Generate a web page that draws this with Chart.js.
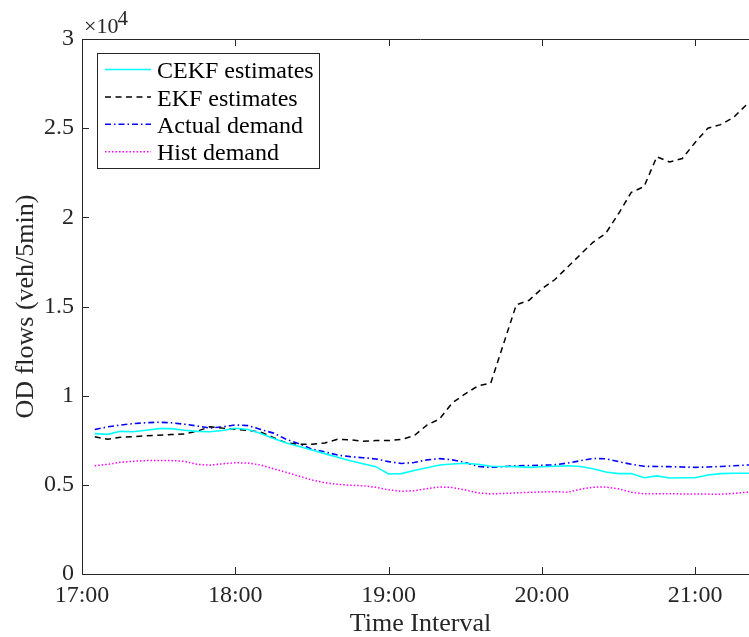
<!DOCTYPE html>
<html>
<head>
<meta charset="utf-8">
<script src="https://cdn.jsdelivr.net/npm/chart.js@4.4.1/dist/chart.umd.min.js"></script>
<style>
html,body{margin:0;padding:0;overflow:hidden;background:#ffffff;width:749px;height:637px;}
canvas{display:block;}
</style>
</head>
<body>
<canvas id="c" width="765" height="637" style="width:765px;height:637px"></canvas>
<script>
// ---- data (OD flows, veh/5min) ----
const times = ['17:05','17:10','17:15','17:20','17:25','17:30','17:35','17:40','17:45','17:50','17:55','18:00',
  '18:05','18:10','18:15','18:20','18:25','18:30','18:35','18:40','18:45','18:50','18:55','19:00',
  '19:05','19:10','19:15','19:20','19:25','19:30','19:35','19:40','19:45','19:50','19:55','20:00',
  '20:05','20:10','20:15','20:20','20:25','20:30','20:35','20:40','20:45','20:50','20:55','21:00',
  '21:05','21:10','21:15','21:20','21:25'];

const cekf = [7870,7830,8000,7980,8060,8150,8150,8060,8000,7980,8050,8170,
  8100,7880,7600,7350,7150,6950,6750,6550,6350,6180,6020,5610,
  5630,5800,5960,6110,6170,6210,6150,6040,6030,6020,5980,6010,
  6040,6070,6030,5900,5720,5630,5630,5400,5500,5380,5400,5400,
  5550,5630,5650,5650,5650];

const ekf = [7700,7550,7670,7700,7750,7780,7820,7850,8000,8260,8180,8110,
  8050,7950,7650,7350,7270,7270,7350,7550,7520,7450,7480,7480,
  7550,7750,8350,8700,9600,10100,10550,10700,12900,15100,15350,16000,
  16500,17200,17900,18600,19100,20200,21400,21720,23400,23100,23300,24200,
  25000,25200,25600,26300,26600];

const actual = [8100,8250,8350,8430,8480,8510,8480,8400,8300,8180,8250,8360,
  8320,8100,7900,7550,7300,7000,6850,6670,6580,6520,6450,6300,
  6200,6250,6400,6470,6400,6260,6030,5980,6020,6070,6080,6100,
  6120,6220,6350,6480,6460,6300,6150,6040,6030,6020,6000,5980,
  6000,6030,6070,6110,6120];

const hist = [6070,6150,6260,6320,6360,6360,6360,6320,6150,6100,6180,6240,
  6220,6110,5900,5700,5480,5270,5120,5030,4980,4950,4860,4720,
  4640,4670,4780,4880,4850,4710,4550,4490,4520,4550,4580,4600,
  4620,4580,4750,4870,4880,4780,4580,4500,4500,4500,4490,4490,
  4480,4470,4520,4580,4600];

const seriesNames = ['CEKF estimates','EKF estimates','Actual demand','Hist demand'];
const xTickTimes = ['17:00','18:00','19:00','20:00','21:00'];
const yTickLabels = ['0','0.5','1','1.5','2','2.5','3'];
const yScaleFactor = 10000;

// ---- helpers ----
const toMin = s => { const [h, m] = s.split(':').map(Number); return (h - 17) * 60 + m; };
const pts = arr => arr.map((v, i) => ({ x: toMin(times[i]), y: v }));
const SERIF = "'Liberation Serif','Times New Roman',serif";
const AXIS = '#262626';

const frame = {
  id: 'frame',
  afterDraw(chart) {
    const ctx = chart.ctx, ca = chart.chartArea;
    const xs = chart.scales.x, ys = chart.scales.y;
    ctx.save();
    ctx.strokeStyle = AXIS; ctx.lineWidth = 1;
    // top box line
    const top = Math.round(ca.top) + 0.5;
    ctx.beginPath(); ctx.moveTo(ca.left, top); ctx.lineTo(ca.right, top); ctx.stroke();
    const tl = 7;
    // inward ticks
    xs.ticks.forEach(t => {
      const px = Math.round(xs.getPixelForValue(t.value)) + 0.5;
      ctx.beginPath();
      ctx.moveTo(px, ca.bottom); ctx.lineTo(px, ca.bottom - tl);
      ctx.moveTo(px, ca.top); ctx.lineTo(px, ca.top + tl);
      ctx.stroke();
    });
    ys.ticks.forEach(t => {
      const py = Math.round(ys.getPixelForValue(t.value)) + 0.5;
      ctx.beginPath();
      ctx.moveTo(ca.left, py); ctx.lineTo(ca.left + tl, py);
      ctx.moveTo(ca.right, py); ctx.lineTo(ca.right - tl, py);
      ctx.stroke();
    });
    // exponent label
    ctx.fillStyle = AXIS;
    ctx.textBaseline = 'alphabetic'; ctx.textAlign = 'left';
    ctx.font = '22px ' + SERIF;
    const ex = ca.left + 2, ey = ca.top - 6;
    ctx.fillText('\u00d710', ex, ey);
    const w = ctx.measureText('\u00d710').width;
    ctx.font = '21px ' + SERIF;
    ctx.fillText('4', ex + w - 1, ey - 8);

    // legend box
    const bx = ca.left + 15, by = ca.top + 14, bw = 222, bh = 115;
    ctx.fillStyle = '#ffffff';
    ctx.fillRect(bx, by, bw, bh);
    ctx.strokeStyle = AXIS; ctx.lineWidth = 1;
    ctx.strokeRect(Math.round(bx) + 0.5, Math.round(by) + 0.5, bw, bh);
    ctx.font = '24px ' + SERIF;
    chart.data.datasets.forEach((ds, i) => {
      const my = by + 16.5 + i * 27.4;
      ctx.save();
      ctx.strokeStyle = ds.borderColor; ctx.lineWidth = ds.borderWidth;
      ctx.setLineDash(ds.borderDash || []);
      ctx.beginPath(); ctx.moveTo(bx + 8, my); ctx.lineTo(bx + 54, my); ctx.stroke();
      ctx.restore();
      ctx.fillStyle = '#000000';
      ctx.textBaseline = 'alphabetic';
      ctx.fillText(ds.label, bx + 60, my + 8.7);
    });
    ctx.restore();
  }
};

new Chart(document.getElementById('c'), {
  type: 'line',
  data: {
    datasets: [
      { label: seriesNames[0], data: pts(cekf), borderColor: '#00ffff', borderWidth: 1.6, borderDash: [] },
      { label: seriesNames[1], data: pts(ekf), borderColor: '#000000', borderWidth: 1.5, borderDash: [6, 4.5] },
      { label: seriesNames[2], data: pts(actual), borderColor: '#0000ff', borderWidth: 1.6, borderDash: [6, 3, 1.5, 3] },
      { label: seriesNames[3], data: pts(hist), borderColor: '#ff00ff', borderWidth: 1.5, borderDash: [1.5, 2] }
    ]
  },
  options: {
    responsive: false,
    animation: false,
    parsing: true,
    elements: { point: { radius: 0, hoverRadius: 0 }, line: { tension: 0, fill: false } },
    layout: { padding: { left: 0, right: 6, top: 39, bottom: 0 } },
    plugins: { legend: { display: false }, tooltip: { enabled: false } },
    events: [],
    scales: {
      x: {
        type: 'linear',
        min: 0, max: 265,
        afterBuildTicks: s => { s.ticks = xTickTimes.map(t => ({ value: toMin(t) })); },
        afterFit: s => { s.height = 63; },
        grid: { display: false, drawTicks: false },
        border: { display: true, color: AXIS, width: 1 },
        ticks: {
          padding: 10,
          color: AXIS,
          font: { family: SERIF, size: 24, lineHeight: 1 },
          callback: (v, i) => xTickTimes[i],
          maxRotation: 0, autoSkip: false
        },
        title: {
          display: true, text: 'Time Interval', color: AXIS,
          font: { family: SERIF, size: 26, lineHeight: 1 },
          padding: { top: 0, bottom: 0 }
        }
      },
      y: {
        type: 'linear',
        min: 0, max: 30000,
        afterBuildTicks: s => { s.ticks = yTickLabels.map(t => ({ value: Number(t) * yScaleFactor })); },
        afterFit: s => { s.width = 82; },
        grid: { display: false, drawTicks: false },
        border: { display: true, color: AXIS, width: 1 },
        ticks: {
          padding: 8,
          color: AXIS,
          font: { family: SERIF, size: 24 },
          callback: (v, i) => yTickLabels[i],
          autoSkip: false
        },
        title: {
          display: true, text: 'OD flows (veh/5min)', color: AXIS,
          font: { family: SERIF, size: 26, lineHeight: 1 },
          padding: { top: 13, bottom: 0 }
        }
      }
    }
  },
  plugins: [frame]
});
</script>
</body>
</html>
